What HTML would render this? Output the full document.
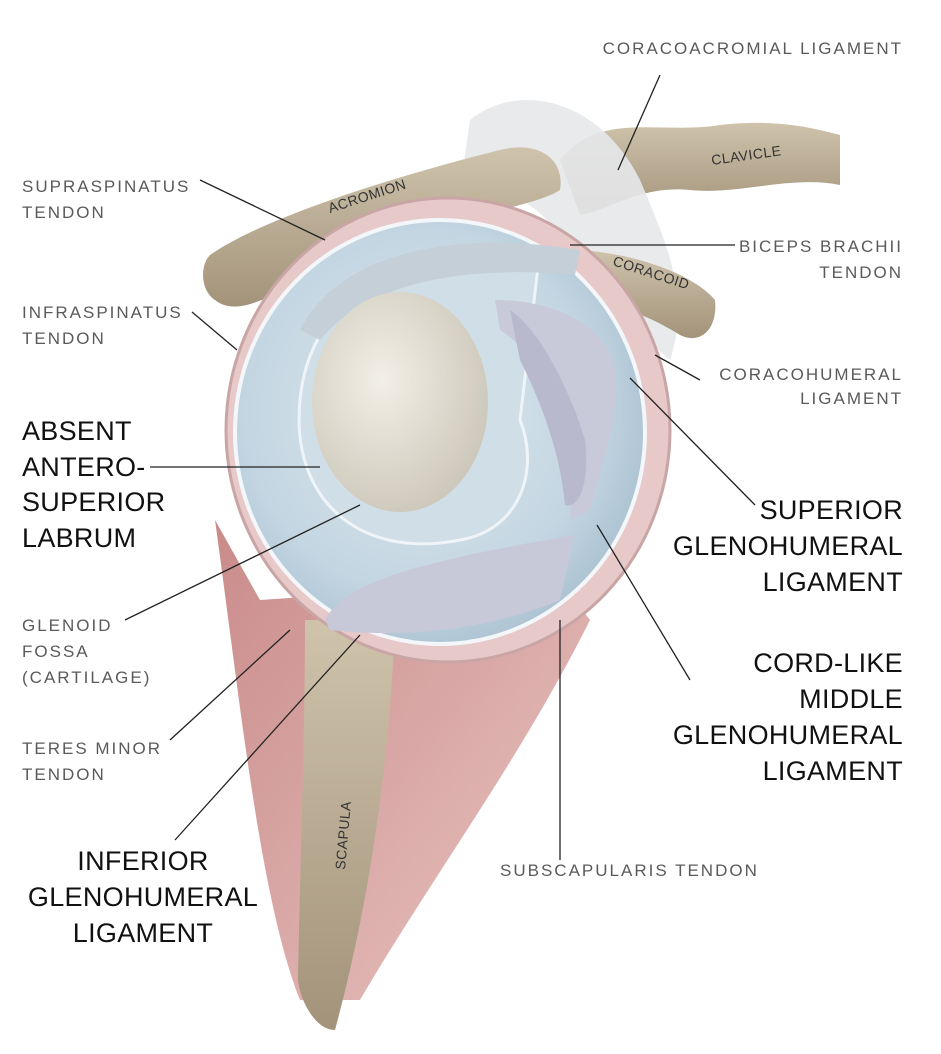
<!DOCTYPE html>
<html><head><meta charset="utf-8"><style>
html,body{margin:0;padding:0;background:#fff;}
svg{display:block;}
.s{font-family:"Liberation Sans",sans-serif;font-size:17px;fill:#5a5a5a;letter-spacing:2px;}
.b{font-family:"Liberation Sans",sans-serif;font-size:27px;fill:#111;letter-spacing:0.3px;}
.l{stroke:#222;stroke-width:1.3;fill:none;}
</style></head><body>
<svg width="941" height="1054" viewBox="0 0 941 1054" xmlns="http://www.w3.org/2000/svg">
<defs>
<radialGradient id="fossa" cx="0.45" cy="0.45" r="0.6"><stop offset="0" stop-color="#dde8ef"/><stop offset="0.7" stop-color="#c4d6e2"/><stop offset="1" stop-color="#a9c0d0"/></radialGradient>
<radialGradient id="egg" cx="0.4" cy="0.4" r="0.7"><stop offset="0" stop-color="#f2efe6"/><stop offset="1" stop-color="#c9c4b6"/></radialGradient>
<linearGradient id="bone" x1="0" y1="0" x2="0" y2="1"><stop offset="0" stop-color="#cfc3ac"/><stop offset="1" stop-color="#a3937a"/></linearGradient>
<linearGradient id="muscle" x1="0" y1="0" x2="1" y2="1"><stop offset="0" stop-color="#c98b8a"/><stop offset="1" stop-color="#e9c5c2"/></linearGradient>
</defs>
<path d="M215,520 C240,700 260,900 300,1000 L360,1000 C430,880 520,760 590,620 L560,580 L260,600 Z" fill="url(#muscle)"/>
<path d="M305,620 L395,620 C390,760 370,900 335,1030 C315,1030 300,1000 298,980 C300,860 305,740 305,620 Z" fill="url(#bone)"/>
<path d="M560,160 C600,110 660,135 720,125 C780,118 820,130 840,135 L840,185 C790,175 740,195 690,190 C640,185 610,210 580,215 Z" fill="url(#bone)"/>
<path d="M470,120 C520,80 600,100 640,180 C670,250 690,300 670,360 L600,300 C560,220 520,180 460,190 Z" fill="#e6e8ea" opacity="0.9"/>
<path d="M570,250 C620,250 690,270 715,300 C718,330 700,345 680,335 C640,310 600,300 560,290 Z" fill="url(#bone)"/>
<path d="M210,255 C260,220 380,180 500,150 C540,140 565,160 560,190 C530,210 420,220 330,265 C280,290 240,320 215,300 C200,290 200,265 210,255 Z" fill="url(#bone)"/>
<ellipse cx="448" cy="430" rx="222" ry="232" fill="#e6c9c8" stroke="#c9a5a5" stroke-width="3"/>
<ellipse cx="440" cy="432" rx="205" ry="212" fill="url(#fossa)" stroke="#f3f7fa" stroke-width="4"/>
<path d="M325,620 C345,580 430,560 575,535 L560,600 C500,625 420,640 330,630 Z" fill="#c7c8d8"/>
<path d="M540,250 C420,230 310,290 300,400 C290,500 360,560 460,540 C520,530 540,470 520,420 Z" fill="#d0dee7" stroke="#eef4f7" stroke-width="3"/>
<path d="M300,330 C340,250 460,230 580,250 L575,275 C470,265 370,280 320,340 Z" fill="#c4cfd8"/>
<path d="M495,300 C560,300 610,330 615,370 C620,420 600,470 590,510 L570,520 C575,450 560,370 500,330 Z" fill="#c9cad9"/>
<path d="M510,310 C540,330 570,390 585,440 C590,480 580,510 565,505 C560,450 540,400 520,360 Z" fill="#b8b9cc"/>
<ellipse cx="400" cy="402" rx="88" ry="110" fill="url(#egg)"/>
<path class="l" d="M660,75 L618,170"/>
<path class="l" d="M200,180 L325,240"/>
<path class="l" d="M735,245 L570,245"/>
<path class="l" d="M192,312 L237,350"/>
<path class="l" d="M700,380 L655,355"/>
<path class="l" d="M150,467 L320,467"/>
<path class="l" d="M755,505 L630,378"/>
<path class="l" d="M125,620 L360,505"/>
<path class="l" d="M690,680 L597,525"/>
<path class="l" d="M170,740 L290,630"/>
<path class="l" d="M175,840 L360,635"/>
<path class="l" d="M560,860 L560,620"/>
<text class="s" x="903" y="54" text-anchor="end">CORACOACROMIAL LIGAMENT</text>
<text class="s" x="712" y="165" transform="rotate(-8 712 165)" style="font-size:14px;fill:#333;letter-spacing:0.5px">CLAVICLE</text>
<text class="s" x="330" y="213" transform="rotate(-18 330 213)" style="font-size:14px;fill:#333;letter-spacing:0.5px">ACROMION</text>
<text class="s" x="612" y="265" transform="rotate(18 612 265)" style="font-size:14px;fill:#333;letter-spacing:0.5px">CORACOID</text>
<text class="s" x="22" y="192">SUPRASPINATUS</text>
<text class="s" x="22" y="218">TENDON</text>
<text class="s" x="903" y="252" text-anchor="end">BICEPS BRACHII</text>
<text class="s" x="903" y="278" text-anchor="end">TENDON</text>
<text class="s" x="22" y="318">INFRASPINATUS</text>
<text class="s" x="22" y="344">TENDON</text>
<text class="s" x="903" y="380" text-anchor="end">CORACOHUMERAL</text>
<text class="s" x="903" y="404" text-anchor="end">LIGAMENT</text>
<text class="b" x="22" y="440">ABSENT</text>
<text class="b" x="22" y="476">ANTERO-</text>
<text class="b" x="22" y="511">SUPERIOR</text>
<text class="b" x="22" y="547">LABRUM</text>
<text class="b" x="903" y="519" text-anchor="end">SUPERIOR</text>
<text class="b" x="903" y="555" text-anchor="end">GLENOHUMERAL</text>
<text class="b" x="903" y="591" text-anchor="end">LIGAMENT</text>
<text class="s" x="22" y="631">GLENOID</text>
<text class="s" x="22" y="657">FOSSA</text>
<text class="s" x="22" y="683">(CARTILAGE)</text>
<text class="b" x="903" y="672" text-anchor="end">CORD-LIKE</text>
<text class="b" x="903" y="708" text-anchor="end">MIDDLE</text>
<text class="b" x="903" y="744" text-anchor="end">GLENOHUMERAL</text>
<text class="b" x="903" y="780" text-anchor="end">LIGAMENT</text>
<text class="s" x="22" y="754">TERES MINOR</text>
<text class="s" x="22" y="780">TENDON</text>
<text class="s" x="500" y="876">SUBSCAPULARIS TENDON</text>
<text class="b" x="143" y="870" text-anchor="middle">INFERIOR</text>
<text class="b" x="143" y="906" text-anchor="middle">GLENOHUMERAL</text>
<text class="b" x="143" y="942" text-anchor="middle">LIGAMENT</text>
<text class="s" x="345" y="870" transform="rotate(-85 345 870)" style="font-size:14px;fill:#333;letter-spacing:0.5px">SCAPULA</text>
</svg>
</body></html>
